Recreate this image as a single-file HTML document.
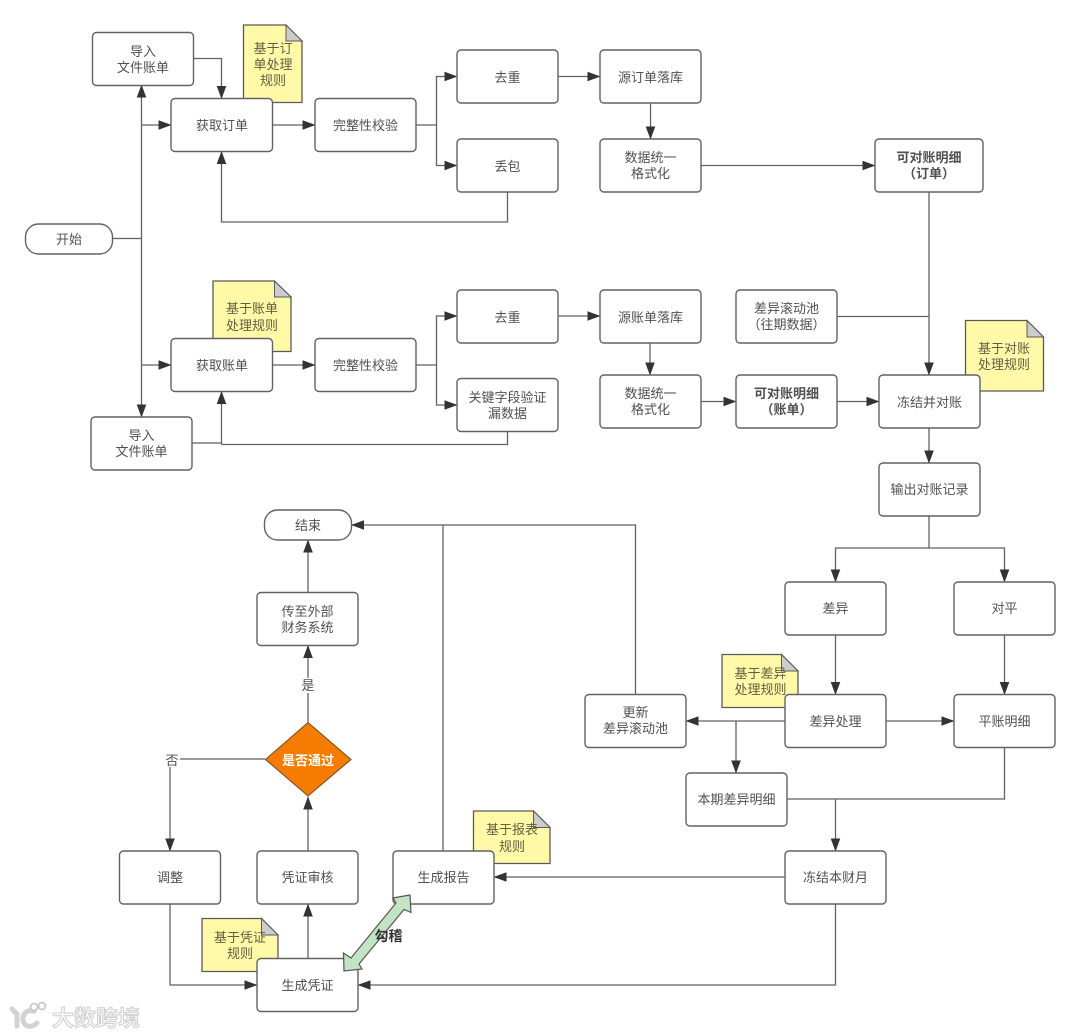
<!DOCTYPE html>
<html lang="zh-CN"><head><meta charset="utf-8"><title>对账流程图</title>
<style>
html,body{margin:0;padding:0;background:#fff;width:1080px;height:1036px;overflow:hidden}
svg{display:block}
text{font-family:"Liberation Sans","Noto Sans CJK SC",sans-serif;font-size:13px;fill:#505050;text-anchor:middle}
.b{fill:#fff;stroke:#626262;stroke-width:1.4}
.n{fill:#fff9a8;stroke:#5a5a5a;stroke-width:1.3}
.f{fill:#ccc;stroke:#5a5a5a;stroke-width:1}
.l{fill:none;stroke:#626262;stroke-width:1.3}
.a{marker-end:url(#m)}
.t{fill:#5f5f42}
.s{font-weight:700}
</style></head><body>
<svg width="1080" height="1036" viewBox="0 0 1080 1036" xmlns="http://www.w3.org/2000/svg">
<defs><marker id="m" markerUnits="userSpaceOnUse" markerWidth="13" markerHeight="10" refX="12.5" refY="5" orient="auto"><path d="M0 0.2L13 5L0 9.8Z" fill="#333"/></marker></defs>

<!-- notes -->
<path class="n" d="M243.5 25H286L302 41V102.5H243.5Z"/><path class="f" d="M286 25L302 41H286Z"/>
<path class="n" d="M213 281H274.500L291 297V351.500H213Z"/><path class="f" d="M274.500 281L291 297H274.500Z"/>
<path class="n" d="M965.500 320.500H1027L1043.500 337V391H965.500Z"/><path class="f" d="M1027 320.500L1043.500 337H1027Z"/>
<path class="n" d="M722 654.500H781.500L798 671V707.500H722Z"/><path class="f" d="M781.500 654.500L798 671H781.500Z"/>
<path class="n" d="M473.500 811H533.500L550 827.500V863.500H473.500Z"/><path class="f" d="M533.500 811L550 827.500H533.500Z"/>
<path class="n" d="M202 918.500H261.500L278 935V971.500H202Z"/><path class="f" d="M261.500 918.500L278 935H261.500Z"/>
<g class="t">
<text class="t" x="273" y="53">基于订</text><text class="t" x="273" y="69">单处理</text><text class="t" x="273" y="85">规则</text>
<text class="t" x="252" y="313">基于账单</text><text class="t" x="252" y="330">处理规则</text>
<text class="t" x="1004" y="353">基于对账</text><text class="t" x="1004" y="369">处理规则</text>
<text class="t" x="760.500" y="678">基于差异</text><text class="t" x="760.500" y="694">处理规则</text>
<text class="t" x="512" y="834">基于报表</text><text class="t" x="512" y="851">规则</text>
<text class="t" x="240" y="942">基于凭证</text><text class="t" x="240" y="958">规则</text>
</g>

<!-- connectors -->
<path class="l" d="M112 238.500H141.500"/>
<path class="l a" d="M141.500 238.500V85"/>
<path class="l a" d="M141.500 238.500V417"/>
<path class="l a" d="M141.500 125H171"/>
<path class="l a" d="M141.500 365H171"/>
<path class="l a" d="M193.500 58.500H221.500V98.500"/>
<path class="l a" d="M272.500 125H315"/>
<path class="l" d="M416 125H436.500"/>
<path class="l a" d="M436.500 125V76.500H457"/>
<path class="l a" d="M436.500 125V165.500H457"/>
<path class="l a" d="M558 76.500H600"/>
<path class="l a" d="M507.500 192V222H221.500V151.500"/>
<path class="l a" d="M650.500 103V139"/>
<path class="l a" d="M701 165.500H875"/>
<path class="l a" d="M929 192V375"/>
<path class="l" d="M837 316.500H929"/>
<path class="l a" d="M272.500 365H315"/>
<path class="l" d="M416 365H436.500"/>
<path class="l a" d="M436.500 365V316H457"/>
<path class="l a" d="M436.500 365V405H457"/>
<path class="l a" d="M558 316H600"/>
<path class="l a" d="M650 343V375"/>
<path class="l a" d="M701 401.500H736"/>
<path class="l a" d="M837 401.500H879"/>
<path class="l" d="M507.500 431.500V444.500H221.500"/>
<path class="l" d="M192 443H221.500"/>
<path class="l a" d="M221.500 444.500V391.500"/>
<path class="l a" d="M929 428V463"/>
<path class="l" d="M929 516V548"/>
<path class="l a" d="M929 548H835.500V582"/>
<path class="l a" d="M929 548H1004.500V582"/>
<path class="l a" d="M835.500 635V694.500"/>
<path class="l a" d="M1004.500 635V694.500"/>
<path class="l a" d="M785 721H686"/>
<path class="l a" d="M736 721V773"/>
<path class="l a" d="M886 721H954"/>
<path class="l" d="M787 799H1004.500V747.500"/>
<path class="l a" d="M835.500 799V851"/>
<path class="l a" d="M785 877H494"/>
<path class="l a" d="M835.500 904V985H358"/>
<path class="l a" d="M635.500 694.500V525H351.500"/>
<path class="l" d="M443 851V525"/>
<path class="l a" d="M265 759H170V851"/>
<path class="l a" d="M308 722V645.500"/>
<path class="l a" d="M308 592.500V540"/>
<path class="l a" d="M308 851V797"/>
<path class="l a" d="M308 958.500V904"/>
<path class="l a" d="M170 904V985H257"/>

<!-- boxes -->
<rect class="b" x="92.500" y="32.500" width="101" height="53" rx="4"/>
<rect class="b" x="171" y="98.500" width="101.500" height="53" rx="4"/>
<rect class="b" x="315" y="98.500" width="101" height="53" rx="4"/>
<rect class="b" x="457" y="50" width="101" height="53" rx="4"/>
<rect class="b" x="457" y="139" width="101" height="53" rx="4"/>
<rect class="b" x="600" y="50" width="101" height="53" rx="4"/>
<rect class="b" x="600" y="139" width="101" height="53" rx="4"/>
<rect class="b" x="875" y="139" width="108" height="53" rx="4"/>
<rect class="b" x="25.500" y="224" width="87" height="30" rx="13"/>
<rect class="b" x="171" y="338.500" width="101.500" height="53" rx="4"/>
<rect class="b" x="315" y="338.500" width="101" height="53" rx="4"/>
<rect class="b" x="457" y="290" width="101" height="53" rx="4"/>
<rect class="b" x="457" y="378.500" width="101" height="53" rx="4"/>
<rect class="b" x="600" y="290" width="101" height="53" rx="4"/>
<rect class="b" x="600" y="375" width="101" height="53" rx="4"/>
<rect class="b" x="736" y="290" width="101" height="53" rx="4"/>
<rect class="b" x="736" y="375" width="101" height="53" rx="4"/>
<rect class="b" x="879" y="375" width="101" height="53" rx="4"/>
<rect class="b" x="91" y="417" width="101" height="53" rx="4"/>
<rect class="b" x="879" y="463" width="101" height="53" rx="4"/>
<rect class="b" x="785" y="582" width="101" height="53" rx="4"/>
<rect class="b" x="954" y="582" width="101" height="53" rx="4"/>
<rect class="b" x="785" y="694.500" width="101" height="53" rx="4"/>
<rect class="b" x="954" y="694.500" width="101" height="53" rx="4"/>
<rect class="b" x="585" y="694.500" width="101" height="53" rx="4"/>
<rect class="b" x="686" y="773" width="101" height="53" rx="4"/>
<rect class="b" x="785" y="851" width="101" height="53" rx="4"/>
<rect class="b" x="393" y="851" width="101" height="53" rx="4"/>
<rect class="b" x="257" y="851" width="101" height="53" rx="4"/>
<rect class="b" x="119.500" y="851" width="101" height="53" rx="4"/>
<rect class="b" x="257" y="958.500" width="101" height="53" rx="4"/>
<rect class="b" x="257" y="592.500" width="101" height="53" rx="4"/>
<rect class="b" x="264.500" y="510" width="87" height="30" rx="13"/>
<path d="M308 722.500L351 759.500L308 796L265.500 759.500Z" fill="#f57c00" stroke="#6b4a1e" stroke-width="1"/>

<!-- box labels -->
<text x="143" y="56">导入</text><text x="143" y="72">文件账单</text>
<text x="222" y="130">获取订单</text>
<text x="365.500" y="130">完整性校验</text>
<text x="507.500" y="82">去重</text>
<text x="507.500" y="171">丢包</text>
<text x="650.500" y="82">源订单落库</text>
<text x="650.500" y="162">数据统一</text><text x="650.500" y="178">格式化</text>
<text class="s" x="929" y="162">可对账明细</text><text class="s" x="929" y="178">（订单）</text>
<text x="69" y="244">开始</text>
<text x="222" y="370">获取账单</text>
<text x="365.500" y="370">完整性校验</text>
<text x="507.500" y="322">去重</text>
<text x="507.500" y="402">关键字段验证</text><text x="507.500" y="418">漏数据</text>
<text x="650.500" y="322">源账单落库</text>
<text x="650.500" y="398">数据统一</text><text x="650.500" y="414">格式化</text>
<text x="786.500" y="313">差异滚动池</text><text x="786.500" y="329">（往期数据）</text>
<text class="s" x="786.500" y="398">可对账明细</text><text class="s" x="786.500" y="414">（账单）</text>
<text x="929.500" y="407">冻结并对账</text>
<text x="141.500" y="440">导入</text><text x="141.500" y="456">文件账单</text>
<text x="929.500" y="494">输出对账记录</text>
<text x="835.500" y="613">差异</text>
<text x="1004.500" y="613">对平</text>
<text x="835.500" y="726">差异处理</text>
<text x="1004.500" y="726">平账明细</text>
<text x="635.500" y="717">更新</text><text x="635.500" y="733">差异滚动池</text>
<text x="736.500" y="804">本期差异明细</text>
<text x="835.500" y="882">冻结本财月</text>
<text x="443.500" y="882">生成报告</text>
<text x="307.500" y="882">凭证审核</text>
<text x="170" y="882">调整</text>
<text x="307.500" y="990">生成凭证</text>
<text x="307.500" y="616">传至外部</text><text x="307.500" y="632">财务系统</text>
<text x="308" y="530">结束</text>
<text x="308" y="765" class="s" style="fill:#fff">是否通过</text>

<!-- edge labels -->
<rect x="300" y="678" width="16" height="15" fill="#fff"/><text x="308" y="690">是</text>
<rect x="164" y="752" width="16" height="15" fill="#fff"/><text x="172" y="765">否</text>

<!-- double arrow -->
<path d="M344 971L343.500 953L351 958L396 903L393 898L410 895L411 912.500L404 909.500L359 964L362 969Z" fill="#c3e3c5" stroke="#555" stroke-width="1.2" stroke-linejoin="miter"/>
<text x="388.500" y="941" class="s" style="fill:#333;font-size:14px">勾稽</text>

<!-- watermark -->
<g fill="none" stroke="#d2d2d2" stroke-width="5" stroke-linecap="round">
<path d="M12 1009L17 1014V1026"/><path d="M34 1011C24 1009 21 1018 24 1023C27 1028 33 1027 37 1023"/>
</g>
<g fill="#fff" stroke="#c8c8c8" stroke-width="1.8"><circle cx="34" cy="1007" r="3.500"/><circle cx="42" cy="1006" r="3.500"/></g>
<text x="96" y="1026" style="font-size:22px;font-weight:700;fill:#f6f6f6;stroke:#d0d0d0;stroke-width:1;letter-spacing:0">大数跨境</text>
</svg>
</body></html>
